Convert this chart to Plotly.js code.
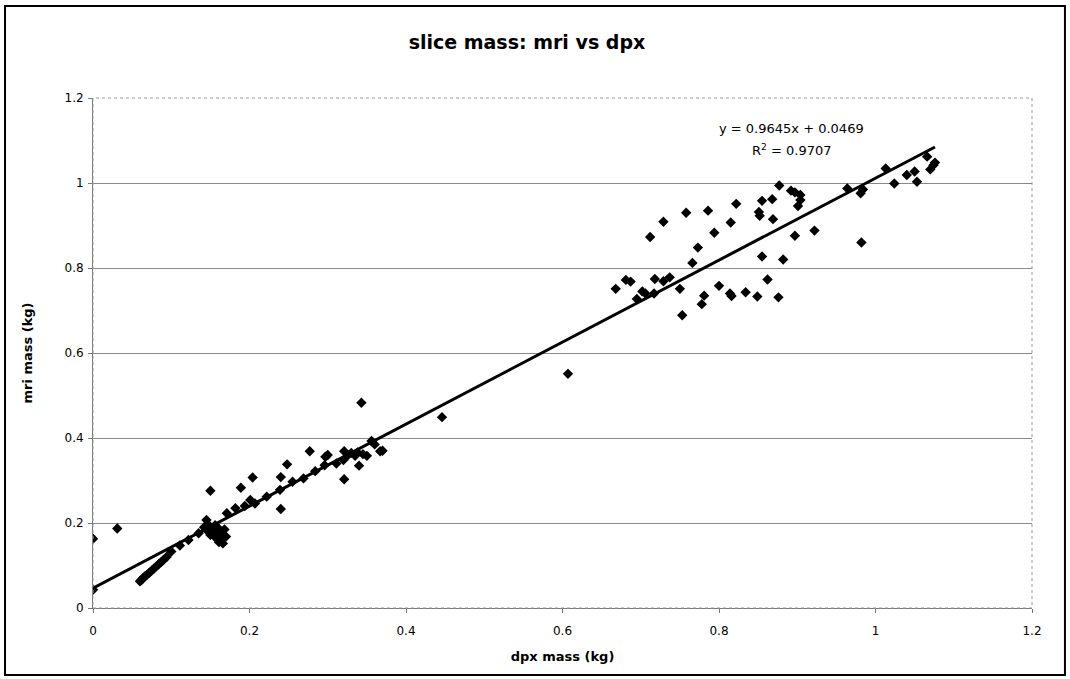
<!DOCTYPE html>
<html>
<head>
<meta charset="utf-8">
<script src="https://cdn.plot.ly/plotly-3.0.1.min.js"></script>
<style>html,body{margin:0;padding:0;background:#fff;}#chart{width:1070px;height:679px;}</style>
</head>
<body>
<div id="chart"></div>
<script>
// dpx mass (kg)
const dpx = [
  0, 0, 0.031,
  0.060,0.062,0.064,0.066,0.069,0.072,0.075,0.078,0.081,0.084,0.087,0.090,0.094,0.100,0.111,0.122,0.135,
  0.150,0.145,0.142,0.146,0.148,0.150,0.152,0.155,0.156,0.158,0.160,0.162,0.164,0.166,0.161,0.168,0.170,0.157,
  0.171,0.182,0.189,0.194,0.201,0.204,0.207,0.222,0.239,0.240,0.240,0.248,0.255,0.269,0.277,0.284,0.296,0.297,
  0.300,0.311,0.320,0.321,0.321,0.326,0.330,0.335,0.338,0.340,0.343,0.345,0.350,0.356,0.360,0.367,0.370,0.446,0.607,
  0.668,0.681,0.687,0.695,0.702,0.706,0.712,0.717,0.718,
  0.729,0.729,0.737,0.750,0.753,0.758,0.766,0.773,0.778,0.781,0.786,0.794,0.800,0.814,0.816,0.815,0.822,0.834,
  0.849,0.851,0.852,0.855,0.855,0.862,0.868,0.869,0.876,0.877,0.882,0.892,0.897,0.904,0.904,0.901,0.897,0.922,
  0.964,0.981,0.984,0.982,1.013,1.024,1.040,1.050,1.053,1.066,1.070,1.074,1.076
];
// mri mass (kg)
const mri = [
  0.043, 0.163, 0.187,
  0.063,0.066,0.070,0.074,0.078,0.083,0.088,0.093,0.098,0.103,0.108,0.113,0.120,0.133,0.147,0.160,0.176,
  0.276,0.207,0.190,0.182,0.195,0.172,0.185,0.178,0.195,0.170,0.188,0.180,0.170,0.152,0.155,0.185,0.168,0.165,
  0.223,0.235,0.283,0.240,0.254,0.307,0.246,0.262,0.278,0.308,0.233,0.338,0.297,0.305,0.369,0.322,0.336,0.356,
  0.360,0.340,0.348,0.369,0.303,0.360,0.365,0.358,0.366,0.335,0.483,0.362,0.358,0.393,0.385,0.369,0.370,0.449,0.551,
  0.751,0.772,0.768,0.727,0.745,0.740,0.873,0.740,0.774,
  0.909,0.769,0.778,0.751,0.689,0.930,0.812,0.848,0.715,0.735,0.935,0.883,0.758,0.740,0.734,0.907,0.951,0.743,
  0.733,0.932,0.923,0.958,0.827,0.773,0.962,0.915,0.731,0.994,0.820,0.982,0.978,0.972,0.960,0.946,0.876,0.888,
  0.987,0.976,0.985,0.860,1.034,0.999,1.019,1.027,1.003,1.062,1.032,1.042,1.048
];
// linear trendline from the chart
const slope = 0.9645;
const intercept = 0.0469;
const eqText = "y = 0.9645x + 0.0469";
const r2Text = "R<sup>2</sup> = 0.9707";
const xTicks = [0, 0.2, 0.4, 0.6, 0.8, 1, 1.2];
const yTicks = [0, 0.2, 0.4, 0.6, 0.8, 1, 1.2];

const xMin = Math.min(...dpx), xMax = Math.max(...dpx);
const trendX = [xMin, xMax];
const trendY = trendX.map(v => slope * v + intercept);

const font = "Verdana, 'DejaVu Sans', sans-serif";

const traces = [
  {
    x: trendX, y: trendY, type: 'scatter', mode: 'lines',
    line: {color: '#000', width: 3}, hoverinfo: 'skip', showlegend: false
  },
  {
    x: dpx, y: mri, type: 'scatter', mode: 'markers',
    marker: {symbol: 'diamond', size: 8, color: '#000'}, showlegend: false
  }
];

const layout = {
  width: 1070, height: 679,
  paper_bgcolor: '#fff', plot_bgcolor: '#fff',
  margin: {l: 93, r: 38, t: 98, b: 71, pad: 0},
  font: {family: font, color: '#000', size: 12},
  title: {text: '<b>slice mass: mri vs dpx</b>', x: 0.4925, xanchor: 'center', y: 0.937, yanchor: 'middle',
          font: {family: font, size: 19, color: '#000'}},
  xaxis: {
    range: [0, 1.2], tickvals: xTicks, ticktext: xTicks.map(String),
    showgrid: false, zeroline: false, showline: true, linecolor: '#777', linewidth: 1,
    ticks: 'outside', ticklen: 4, tickcolor: '#777', ticklabelstandoff: 8,
    tickfont: {family: font, size: 12, color: '#000'},
    title: {text: '<b>dpx mass (kg)</b>', font: {family: font, size: 13, color: '#000'}, standoff: 14}
  },
  yaxis: {
    range: [0, 1.2], tickvals: yTicks, ticktext: yTicks.map(String),
    showgrid: true, gridcolor: '#888', gridwidth: 1, zeroline: false,
    showline: true, linecolor: '#777', linewidth: 1,
    ticks: 'outside', ticklen: 4, tickcolor: '#777', ticklabelstandoff: 2,
    tickfont: {family: font, size: 12, color: '#000'},
    title: {text: '<b>mri mass (kg)</b>', font: {family: font, size: 13, color: '#000'}, standoff: 28}
  },
  shapes: [
    {type: 'rect', xref: 'paper', yref: 'paper', x0: 0, x1: 1, y0: 0, y1: 1,
     line: {color: '#999', width: 1, dash: 'dot'}},
    {type: 'rect', xref: 'paper', yref: 'paper', x0: -0.0937, x1: 1.0351, y0: -0.1314, y1: 1.1804,
     line: {color: '#000', width: 2}}
  ],
  annotations: [
    {x: 0.893, y: 1.129, xref: 'x', yref: 'y', text: eqText, showarrow: false,
     font: {family: font, size: 13, color: '#000'}},
    {x: 0.893, y: 1.078, xref: 'x', yref: 'y', text: r2Text, showarrow: false,
     font: {family: font, size: 13, color: '#000'}}
  ]
};

Plotly.newPlot('chart', traces, layout, {displayModeBar: false, staticPlot: true});
</script>
</body>
</html>
